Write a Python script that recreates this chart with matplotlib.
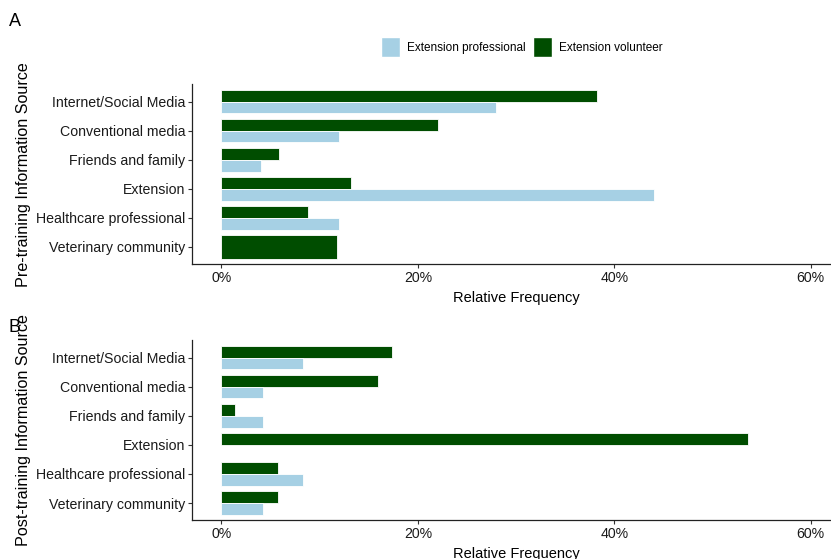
import numpy as np
import matplotlib
matplotlib.use("Agg")
import matplotlib.pyplot as plt
from matplotlib.patches import Patch

plt.rcParams["font.family"] = ["Liberation Sans", "DejaVu Sans"]

# Information sources (top to bottom)
sources = ["Internet/Social Media", "Conventional media", "Friends and family",
           "Extension", "Healthcare professional", "Veterinary community"]

# Relative frequency (%) before training; None = no response in that group
pre_professional = [28.0, 12.0, 4.0, 44.0, 12.0, None]
pre_volunteer = [38.2, 22.1, 5.9, 13.2, 8.8, 11.8]

# Relative frequency (%) after training
post_professional = [8.3, 4.2, 4.2, 0.0, 8.3, 4.2]
post_volunteer = [17.4, 15.9, 1.4, 53.6, 5.8, 5.8]

xticks = [0, 20, 40, 60]
xtick_labels = ["0%", "20%", "40%", "60%"]

COL_PRO = "#a6d0e4"
COL_VOL = "#004d00"

fig = plt.figure(figsize=(8.31, 5.59), dpi=100)


def draw_panel(ax, prof, vol, ylabel):
    n = len(sources)
    ypos = np.arange(n)[::-1] + 1.0  # first source at the top
    dodge = 0.8
    for y, p, v in zip(ypos, prof, vol):
        if p is None:
            ax.barh(y, v, height=dodge, color=COL_VOL, edgecolor="white", linewidth=0.6)
        else:
            ax.barh(y + dodge / 4, v, height=dodge / 2, color=COL_VOL,
                    edgecolor="white", linewidth=0.6)
            ax.barh(y - dodge / 4, p, height=dodge / 2, color=COL_PRO,
                    edgecolor="white", linewidth=0.6)
    ax.set_ylim(0.4, n + 0.6)
    ax.set_xlim(-3, 63)
    ax.set_yticks(ypos)
    ax.set_yticklabels(sources, fontsize=10.2, color="#1a1a1a")
    ax.set_xticks(xticks)
    ax.set_xticklabels(xtick_labels, fontsize=10.2, color="#1a1a1a")
    ax.set_xlabel("Relative Frequency", fontsize=10.5, labelpad=4)
    ax.set_ylabel(ylabel, fontsize=11.6)
    ax.yaxis.set_label_coords(-0.249, 0.5)
    for s in ("top", "right"):
        ax.spines[s].set_visible(False)
    for s in ("left", "bottom"):
        ax.spines[s].set_linewidth(0.9)
        ax.spines[s].set_color("#222222")
    ax.tick_params(axis="both", length=3, width=0.8, color="#333333", pad=2)


ax_a = fig.add_axes([0.231, 0.527, 0.780, 0.322])
draw_panel(ax_a, pre_professional, pre_volunteer, "Pre-training Information Source")

ax_b = fig.add_axes([0.231, 0.069, 0.780, 0.322])
draw_panel(ax_b, post_professional, post_volunteer, "Post-training Information Source")

fig.text(9 / 831, 1 - 22 / 559, "A", fontsize=13, va="center", ha="left")
fig.text(9 / 831, 1 - 327 / 559, "B", fontsize=13, va="center", ha="left")

handles = [Patch(facecolor=COL_PRO, edgecolor="white", label="Extension professional"),
           Patch(facecolor=COL_VOL, edgecolor="white", label="Extension volunteer")]
fig.legend(handles=handles, loc="center", bbox_to_anchor=(522 / 831, 1 - 47 / 559),
           ncol=2, frameon=False, fontsize=8.5, handlelength=1.6, handleheight=2.2,
           columnspacing=0.6, handletextpad=0.6)

fig.savefig("out.png", dpi=100)
